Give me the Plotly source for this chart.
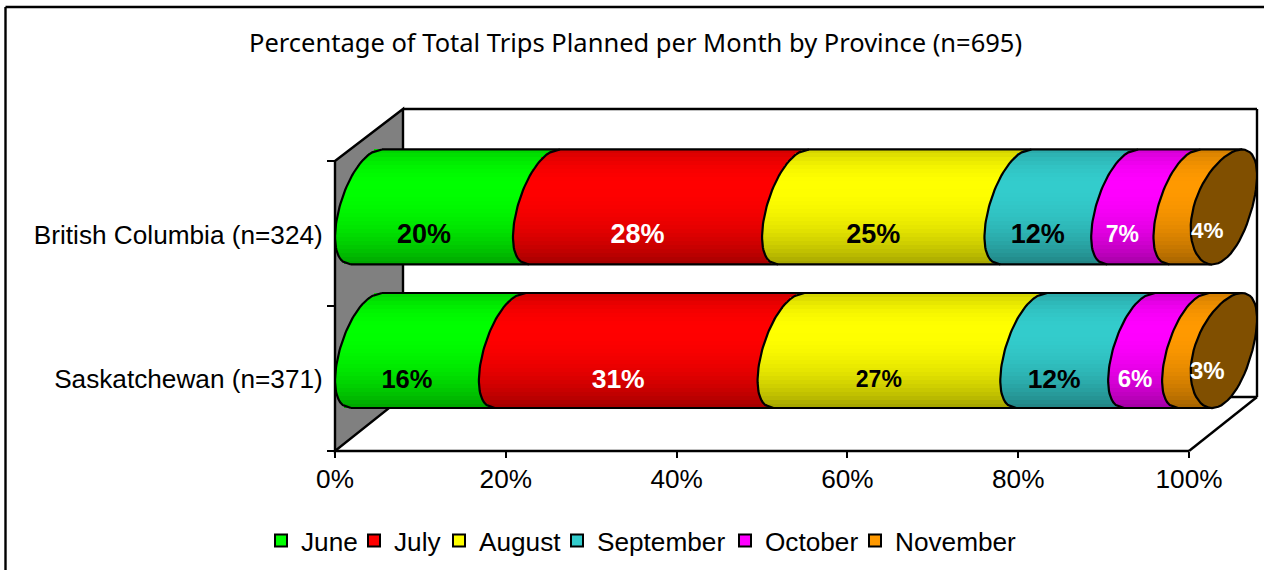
import math
import plotly.graph_objects as go

categories = ["Saskatchewan (n=371)", "British Columbia (n=324)"]
months = ["June", "July", "August", "September", "October", "November"]
saskatchewan = [16, 31, 27, 12, 6, 3]
british_columbia = [20, 28, 25, 12, 7, 4]
values_by_category = [saskatchewan, british_columbia]
month_rgb = [(0, 255, 0), (255, 0, 0), (255, 255, 0), (51, 204, 204), (255, 0, 255), (255, 153, 0)]
label_colors = ["black", "white", "black", "black", "white", "white"]
label_sizes = [[25.5, 26.5, 23, 26.5, 24, 24], [27, 27, 27, 27, 23, 22.5]]
x_ticks = [0, 20, 40, 60, 80, 100]

W, H = 1264, 570
PL, PR, PT, PB = 335, 1258, 109, 451      # plot area in page pixels
PX_PER_PCT = 8.54
PX_PER_CAT = 145
XMAX = (PR - PL) / PX_PER_PCT
YMAX = (PB - PT) / PX_PER_CAT
DEPTH_X, DEPTH_Y = 68, 53
A, B, E, R = 29.5, -15.5, -2.5, 57.5      # skewed circle of a cylinder, px
N_BANDS = 29
depth_shift = [0.193, 0.183]
CAP = "#804F00"
label_shift = -0.02
nov_label_y = [0.5 + 0.04, 1.5 + 0.01]
font_size = 26.2


def px(x):
    return (x - PL) / (PR - PL)


def py(y):
    return (PB - y) / (PB - PT)


def offset_pct(s):
    """x offset of the visible cylinder edge at height s (-1 top .. 1 bottom)."""
    c = -math.sqrt(max(0, 1 - s * s))
    return (DEPTH_X / 2 + A * c + B * s + E * s * s) / PX_PER_PCT


def cap_x(t):
    return 100 + (DEPTH_X / 2 + 29.4 * math.cos(t) - 15 * math.sin(t) + 4 * math.sin(t) ** 2) / PX_PER_PCT


def shade(u):
    if u < 0.31:
        return 1 - 0.18 * ((u - 0.31) / 0.31) ** 2
    return 1 - 0.36 * ((u - 0.31) / 0.69) ** 2


band_s = [-1 + (i + 0.5) * 2 / N_BANDS for i in range(N_BANDS)]
band_h = 2 * R / N_BANDS / PX_PER_CAT

fig = go.Figure()

norm = []
for cat_i, vals in enumerate(values_by_category):
    total = sum(vals)
    norm.append([v / total * 100 for v in vals])

for m_i, month in enumerate(months):
    ys, xs, bases, cols = [], [], [], []
    for cat_i in range(len(categories)):
        centre = cat_i + 0.5 + depth_shift[cat_i]
        start = sum(norm[cat_i][:m_i])
        for s in band_s:
            k = shade((s + 1) / 2)
            r, g, b = month_rgb[m_i]
            ys.append(centre - s * R / PX_PER_CAT)
            xs.append(norm[cat_i][m_i] + (0.8 if m_i == 5 else 0))
            bases.append(start + offset_pct(s))
            cols.append(f"rgb({r*k:.0f},{g*k:.0f},{b*k:.0f})")
    fig.add_trace(go.Bar(orientation="h", y=ys, x=xs, base=bases, width=band_h,
                         marker=dict(color=cols, line=dict(width=0)),
                         showlegend=False, hoverinfo="skip"))

arc_s = [i / 20 - 1 for i in range(41)]
outline = dict(color="black", width=2.2)
for cat_i in range(len(categories)):
    centre = cat_i + 0.5 + depth_shift[cat_i]
    cum = 0
    for v in norm[cat_i][:-1]:
        fig.add_trace(go.Scatter(
            x=[cum + offset_pct(s) for s in arc_s],
            y=[centre - s * R / PX_PER_CAT for s in arc_s],
            mode="lines", line=outline, showlegend=False, hoverinfo="skip"))
        cum += v
    fig.add_trace(go.Scatter(
        x=[cum + offset_pct(s) for s in arc_s],
        y=[centre - s * R / PX_PER_CAT for s in arc_s],
        mode="lines", line=outline, showlegend=False, hoverinfo="skip"))
    for s, t in ((-1, -math.pi / 2), (1, math.pi / 2)):
        fig.add_trace(go.Scatter(
            x=[offset_pct(s), cap_x(t)],
            y=[centre - s * R / PX_PER_CAT] * 2,
            mode="lines", line=outline, showlegend=False, hoverinfo="skip"))
    ring = [(i * math.pi / 30) for i in range(61)]
    fig.add_trace(go.Scatter(
        x=[cap_x(t) for t in ring],
        y=[centre - math.sin(t) * R / PX_PER_CAT for t in ring],
        mode="lines", fill="toself", fillcolor=CAP,
        line=outline, showlegend=False, hoverinfo="skip"))

lab_x, lab_y, lab_t, lab_c, lab_s = [], [], [], [], []
for cat_i in range(len(categories)):
    cum = 0
    for m_i, v in enumerate(values_by_category[cat_i]):
        w = norm[cat_i][m_i]
        if m_i == 5:
            lab_x.append(102.15)
            lab_y.append(nov_label_y[cat_i])
        else:
            lab_x.append(cum + w / 2)
            lab_y.append(cat_i + 0.5 + label_shift)
        lab_t.append(f"{v}%")
        lab_c.append(label_colors[m_i])
        lab_s.append(label_sizes[cat_i][m_i])
        cum += w
fig.add_trace(go.Scatter(x=lab_x, y=lab_y, text=lab_t, mode="text", cliponaxis=False,
                         textfont=dict(family="Liberation Sans", size=lab_s, color=lab_c, weight="bold"),
                         textposition="middle center", showlegend=False, hoverinfo="skip"))

legend_w = [51, 43, 76, 126, 88, 121]
for m_i, month in enumerate(months):
    r, g, b = month_rgb[m_i]
    fig.add_trace(go.Bar(x=[None], y=[None], name=month, orientation="h",
                         marker=dict(color=f"rgb({r},{g},{b})", line=dict(color="black", width=2)),
                         legendwidth=legend_w[m_i]))

line = dict(color="black", width=2.4)


def seg(x0, y0, x1, y1):
    return dict(type="line", xref="paper", yref="paper", x0=px(x0), y0=py(y0), x1=px(x1), y1=py(y1),
                line=line, layer="below")


BX, BY = PL + DEPTH_X, PB - 54
shapes = [
    dict(type="path", xref="paper", yref="paper", layer="below",
         path=f"M{px(335)},{py(161)} L{px(BX)},{py(109)} L{px(BX)},{py(BY)} L{px(335)},{py(451)} Z",
         fillcolor="#808080", line=line),
    seg(BX, 109, 1257, 109), seg(1257, 109, 1257, BY), seg(BX, BY, 1257, BY),
    seg(335, 451, 1189, 451), seg(1189, 451, 1257, BY),
    seg(5.5, 575, 5.5, 7), seg(5.5, 7, 1270, 7),
]

fig.update_layout(
    width=W, height=H, margin=dict(l=PL, r=W - PR, t=PT, b=H - PB, pad=0, autoexpand=False),
    paper_bgcolor="white", plot_bgcolor="rgba(0,0,0,0)", barmode="overlay", bargap=0,
    font=dict(family="Liberation Sans", size=font_size, color="black"),
    shapes=shapes,
    xaxis=dict(range=[0, XMAX], tickmode="array", tickvals=x_ticks, ticktext=[f"{t}%" for t in x_ticks],
               ticks="outside", ticklen=6, tickwidth=2, tickcolor="black", showgrid=False, zeroline=False,
               showline=False, tickfont=dict(size=font_size), ticklabelstandoff=-1),
    yaxis=dict(range=[0, YMAX], tickmode="array", tickvals=[0.495, 1.49], ticktext=categories,
               ticks="outside", ticklen=6, tickcolor="rgba(0,0,0,0)", showgrid=False, zeroline=False,
               showline=False, tickfont=dict(size=font_size),
               minor=dict(tickmode="array", tickvals=[0, 1, 2], ticks="outside", ticklen=7,
                          tickwidth=2, tickcolor="black", showgrid=False)),
    legend=dict(orientation="h", x=px(264), y=py(541), xanchor="left", yanchor="middle",
                font=dict(size=font_size), bgcolor="rgba(0,0,0,0)", itemwidth=30, traceorder="normal",
                indentation=-3),
    annotations=[dict(text="Percentage of Total Trips Planned per Month by Province (n=695)",
                      xref="paper", yref="paper", x=px(635), y=py(42), xanchor="center", yanchor="middle",
                      showarrow=False, font=dict(family="Noto Sans", size=25.5, color="black"))],
)
fig.write_html("out.html", config=dict(displayModeBar=False),
               post_script='document.body.style.margin="0";')
